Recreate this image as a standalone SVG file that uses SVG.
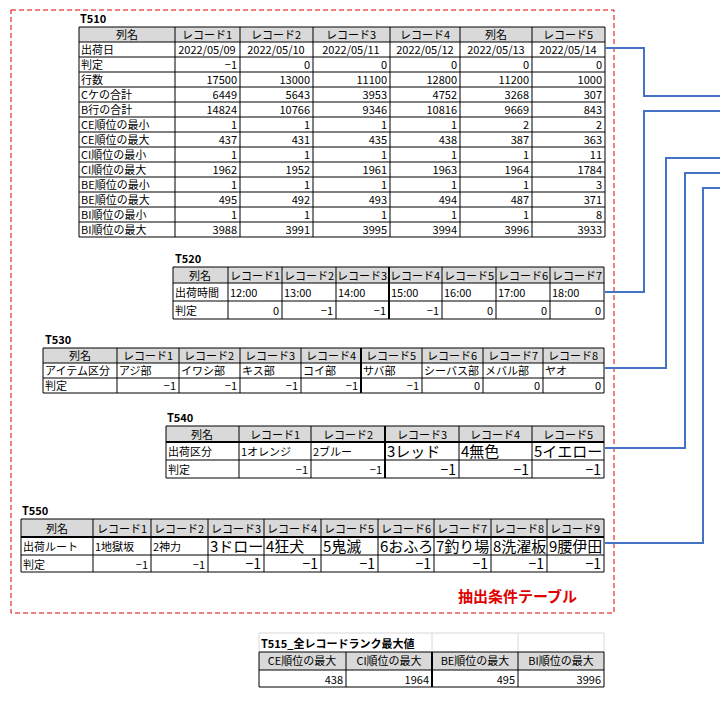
<svg xmlns="http://www.w3.org/2000/svg" width="720" height="705" viewBox="0 0 720 705">
<style>
text{font-family:"Noto Sans CJK JP","DejaVu Sans",sans-serif;font-size:11px;fill:#000}
.t{font-weight:bold;font-size:11px}
.c{text-anchor:middle}
.r{text-anchor:end}
.r text{text-anchor:end}
.c text{text-anchor:middle}
text.big,.big text{font-size:14px}
.b15 text{font-size:15px}
.hd{fill:#d9d9d9}
.grid{fill:none;stroke:#000;stroke-width:1}
.conn{fill:none;stroke:#4472c4;stroke-width:2}
</style>
<rect width="720" height="705" fill="#fff"/>
<rect x="11" y="10" width="603" height="603" fill="none" stroke="#e00000" stroke-width="1" stroke-dasharray="5,3"/>
<text x="458" y="602" style="fill:#e00000;font-size:15px;font-weight:bold">抽出条件テーブル</text>

<g id="T510">
<text class="t" x="80" y="23">T510</text>
<rect class="hd" x="79" y="27" width="526" height="15"/>
<path class="grid" d="M79 27H605V237H79Z M79 42H605 M79 57H605 M79 72H605 M79 87H605 M79 102H605 M79 117H605 M79 132H605 M79 147H605 M79 162H605 M79 177H605 M79 192H605 M79 207H605 M79 222H605 M175 27V237 M240 27V237 M313 27V237 M390 27V237 M460 27V237 M532 27V237"/>
<g class="c"><text x="127" y="39">列名</text><text x="207" y="39">レコード1</text><text x="276" y="39">レコード2</text><text x="351" y="39">レコード3</text><text x="425" y="39">レコード4</text><text x="496" y="39">列名</text><text x="568" y="39">レコード5</text>
<text x="207" y="54">2022/05/09</text><text x="276" y="54">2022/05/10</text><text x="351" y="54">2022/05/11</text><text x="425" y="54">2022/05/12</text><text x="496" y="54">2022/05/13</text><text x="568" y="54">2022/05/14</text></g>
<g><text x="81" y="54">出荷日</text><text x="81" y="69">判定</text><text x="81" y="84">行数</text><text x="81" y="99">Cケの合計</text><text x="81" y="114">B行の合計</text><text x="81" y="129">CE順位の最小</text><text x="81" y="144">CE順位の最大</text><text x="81" y="159">CI順位の最小</text><text x="81" y="174">CI順位の最大</text><text x="81" y="189">BE順位の最小</text><text x="81" y="204">BE順位の最大</text><text x="81" y="219">BI順位の最小</text><text x="81" y="234">BI順位の最大</text></g>
<g class="r">
<text x="237" y="69">−1</text><text x="310" y="69">0</text><text x="387" y="69">0</text><text x="457" y="69">0</text><text x="529" y="69">0</text><text x="602" y="69">0</text>
<text x="237" y="84">17500</text><text x="310" y="84">13000</text><text x="387" y="84">11100</text><text x="457" y="84">12800</text><text x="529" y="84">11200</text><text x="602" y="84">1000</text>
<text x="237" y="99">6449</text><text x="310" y="99">5643</text><text x="387" y="99">3953</text><text x="457" y="99">4752</text><text x="529" y="99">3268</text><text x="602" y="99">307</text>
<text x="237" y="114">14824</text><text x="310" y="114">10766</text><text x="387" y="114">9346</text><text x="457" y="114">10816</text><text x="529" y="114">9669</text><text x="602" y="114">843</text>
<text x="237" y="129">1</text><text x="310" y="129">1</text><text x="387" y="129">1</text><text x="457" y="129">1</text><text x="529" y="129">2</text><text x="602" y="129">2</text>
<text x="237" y="144">437</text><text x="310" y="144">431</text><text x="387" y="144">435</text><text x="457" y="144">438</text><text x="529" y="144">387</text><text x="602" y="144">363</text>
<text x="237" y="159">1</text><text x="310" y="159">1</text><text x="387" y="159">1</text><text x="457" y="159">1</text><text x="529" y="159">1</text><text x="602" y="159">11</text>
<text x="237" y="174">1962</text><text x="310" y="174">1952</text><text x="387" y="174">1961</text><text x="457" y="174">1963</text><text x="529" y="174">1964</text><text x="602" y="174">1784</text>
<text x="237" y="189">1</text><text x="310" y="189">1</text><text x="387" y="189">1</text><text x="457" y="189">1</text><text x="529" y="189">1</text><text x="602" y="189">3</text>
<text x="237" y="204">495</text><text x="310" y="204">492</text><text x="387" y="204">493</text><text x="457" y="204">494</text><text x="529" y="204">487</text><text x="602" y="204">371</text>
<text x="237" y="219">1</text><text x="310" y="219">1</text><text x="387" y="219">1</text><text x="457" y="219">1</text><text x="529" y="219">1</text><text x="602" y="219">8</text>
<text x="237" y="234">3988</text><text x="310" y="234">3991</text><text x="387" y="234">3995</text><text x="457" y="234">3994</text><text x="529" y="234">3996</text><text x="602" y="234">3933</text>
</g>
</g>

<g id="T520">
<text class="t" x="175" y="263">T520</text>
<rect class="hd" x="173" y="267" width="431" height="16"/>
<path class="grid" d="M173 267H604V319H173Z M173 283H604 M173 301H604 M228 267V319 M282 267V319 M336 267V319 M442 267V319 M496 267V319 M550 267V319"/>
<path d="M389 267V319" stroke="#000" stroke-width="2"/>
<g class="c"><text x="200" y="280">列名</text><text x="255" y="280">レコード1</text><text x="309" y="280">レコード2</text><text x="362" y="280">レコード3</text><text x="415" y="280">レコード4</text><text x="469" y="280">レコード5</text><text x="523" y="280">レコード6</text><text x="577" y="280">レコード7</text></g>
<text x="175" y="297">出荷時間</text><text x="230" y="297">12:00</text><text x="284" y="297">13:00</text><text x="338" y="297">14:00</text><text x="391" y="297">15:00</text><text x="444" y="297">16:00</text><text x="498" y="297">17:00</text><text x="552" y="297">18:00</text>
<text x="175" y="315">判定</text>
<g class="r"><text x="279" y="315">0</text><text x="333" y="315">−1</text><text x="386" y="315">−1</text><text x="439" y="315">−1</text><text x="493" y="315">0</text><text x="547" y="315">0</text><text x="601" y="315">0</text></g>
</g>

<g id="T530">
<text class="t" x="45" y="344">T530</text>
<rect class="hd" x="43" y="348" width="561" height="15"/>
<path class="grid" d="M43 348H604V393H43Z M43 363H604 M43 378H604 M117 348V393 M179 348V393 M240 348V393 M301 348V393 M422 348V393 M483 348V393 M543 348V393"/>
<path d="M361 348V393" stroke="#000" stroke-width="2"/>
<g class="c"><text x="80" y="360">列名</text><text x="148" y="360">レコード1</text><text x="209" y="360">レコード2</text><text x="270" y="360">レコード3</text><text x="331" y="360">レコード4</text><text x="391" y="360">レコード5</text><text x="452" y="360">レコード6</text><text x="513" y="360">レコード7</text><text x="573" y="360">レコード8</text></g>
<text x="45" y="375">アイテム区分</text><text x="119" y="375">アジ部</text><text x="181" y="375">イワシ部</text><text x="242" y="375">キス部</text><text x="303" y="375">コイ部</text><text x="363" y="375">サバ部</text><text x="424" y="375">シーバス部</text><text x="485" y="375">メバル部</text><text x="545" y="375">ヤオ</text>
<text x="45" y="390">判定</text>
<g class="r"><text x="176" y="390">−1</text><text x="237" y="390">−1</text><text x="298" y="390">−1</text><text x="358" y="390">−1</text><text x="419" y="390">−1</text><text x="480" y="390">0</text><text x="540" y="390">0</text><text x="601" y="390">0</text></g>
</g>

<g id="T540">
<text class="t" x="167" y="422">T540</text>
<rect class="hd" x="166" y="426" width="438" height="16"/>
<path class="grid" d="M166 426H604V478H166Z M166 460H604 M239 426V478 M311 426V478 M459 426V478 M532 426V478"/>
<path d="M166 442H604 M385 426V478" stroke="#000" stroke-width="2"/>
<g class="c"><text x="202" y="439">列名</text><text x="275" y="439">レコード1</text><text x="348" y="439">レコード2</text><text x="422" y="439">レコード3</text><text x="495" y="439">レコード4</text><text x="568" y="439">レコード5</text></g>
<text x="168" y="456">出荷区分</text><text x="241" y="456">1オレンジ</text><text x="313" y="456">2ブルー</text>
<g class="b15"><text x="387" y="457">3レッド</text><text x="461" y="457">4無色</text><text x="534" y="457">5イエロー</text></g>
<text x="168" y="474">判定</text>
<g class="r"><text x="308" y="474">−1</text><text x="382" y="474">−1</text><text class="big" x="456" y="475">−1</text><text class="big" x="529" y="475">−1</text><text class="big" x="601" y="475">−1</text></g>
</g>

<g id="T550">
<defs><clipPath id="c3"><rect x="208" y="537" width="56" height="18"/></clipPath></defs>
<text class="t" x="22" y="515">T550</text>
<rect class="hd" x="21" y="519" width="583" height="18"/>
<path class="grid" d="M21 519H604V572H21Z M21 555H604 M93 519V572 M151 519V572 M208 519V572 M264 519V572 M321 519V572 M378 519V572 M434 519V572 M491 519V572 M547 519V572"/>
<path d="M21 537H604" stroke="#000" stroke-width="2"/>
<g class="c"><text x="57" y="533">列名</text><text x="122" y="533">レコード1</text><text x="179" y="533">レコード2</text><text x="236" y="533">レコード3</text><text x="292" y="533">レコード4</text><text x="349" y="533">レコード5</text><text x="406" y="533">レコード6</text><text x="462" y="533">レコード7</text><text x="519" y="533">レコード8</text><text x="575" y="533">レコード9</text></g>
<text x="23" y="551">出荷ルート</text><text x="95" y="551">1地獄坂</text><text x="153" y="551">2神力</text>
<g class="b15"><text x="210" y="552" clip-path="url(#c3)">3ドローン</text><text x="266" y="552">4狂犬</text><text x="323" y="552">5鬼滅</text><text x="380" y="552">6おふろ</text><text x="436" y="552">7釣り場</text><text x="493" y="552">8洗濯板</text><text x="549" y="552">9腰伊田</text></g>
<text x="23" y="569">判定</text>
<g class="r"><text x="148" y="569">−1</text><text x="205" y="569">−1</text><text class="big" x="261" y="569">−1</text><text class="big" x="318" y="569">−1</text><text class="big" x="375" y="569">−1</text><text class="big" x="431" y="569">−1</text><text class="big" x="488" y="569">−1</text><text class="big" x="544" y="569">−1</text><text class="big" x="601" y="569">−1</text></g>
</g>

<g id="T515">
<path d="M259 633H604V652 M432 633V652 M518 633V652 M259 633V652" fill="none" stroke="#d8d8d8"/>
<text class="t" x="261" y="648">T515_全レコードランク最大値</text>
<rect class="hd" x="259" y="652" width="345" height="18"/>
<path class="grid" d="M259 652H604V687H259Z M259 670H604 M346 652V687 M518 652V687"/>
<path d="M432 652V687" stroke="#000" stroke-width="2"/>
<g class="c"><text x="302" y="665">CE順位の最大</text><text x="389" y="665">CI順位の最大</text><text x="475" y="665">BE順位の最大</text><text x="561" y="665">BI順位の最大</text></g>
<g class="r"><text x="343" y="684">438</text><text x="429" y="684">1964</text><text x="515" y="684">495</text><text x="601" y="684">3996</text></g>
</g>

<g id="connectors">
<path class="conn" d="M605 48H644V96H720"/>
<path class="conn" d="M605 292H644V111H720"/>
<path class="conn" d="M605 368H666V158H720"/>
<path class="conn" d="M605 448H685V173H720"/>
<path class="conn" d="M605 543H703V188H720"/>
</g>
</svg>
